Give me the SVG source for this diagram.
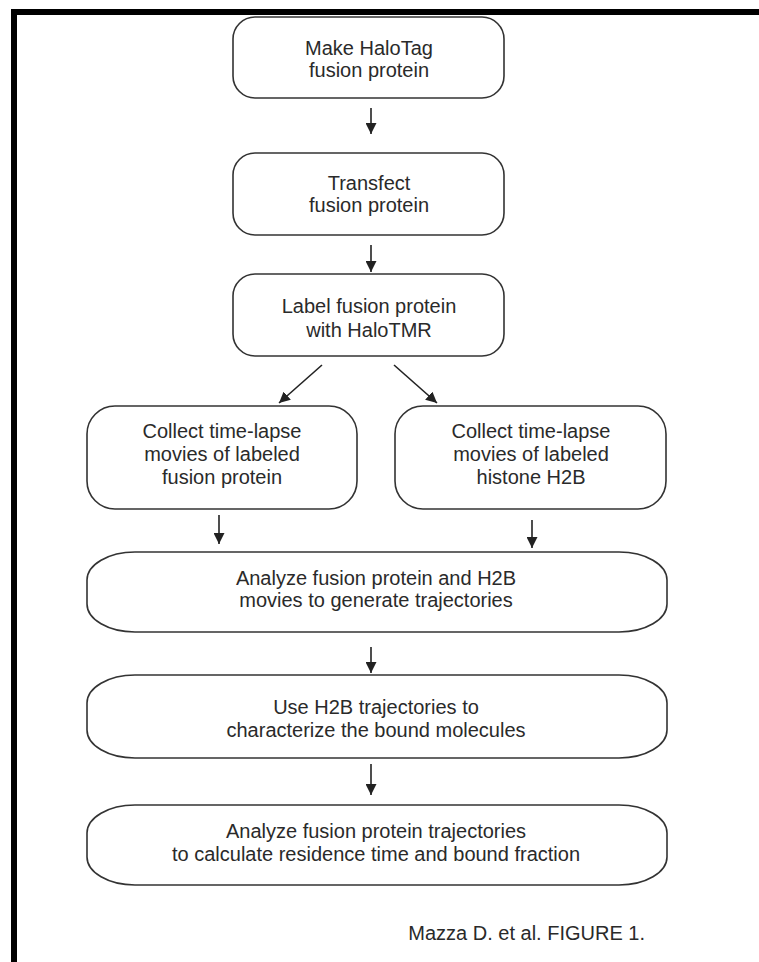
<svg xmlns="http://www.w3.org/2000/svg" width="759" height="962" viewBox="0 0 759 962">
<style>
.box{fill:#fff;stroke:#333;stroke-width:1.6}
.t{font-family:"Liberation Sans",Arial,sans-serif;font-size:20px;fill:#2a2a2a;text-anchor:middle}
.c{stroke:#222;stroke-width:1.6;fill:none;marker-end:url(#ah)}
</style>
<defs>
<marker id="ah" viewBox="0 0 10 10" refX="10" refY="5" markerWidth="11" markerHeight="11" markerUnits="userSpaceOnUse" orient="auto">
<path d="M0,0 L10,5 L0,10 Z" fill="#222"/>
</marker>
</defs>
<rect x="0" y="0" width="759" height="962" fill="#fff"/>
<g id="border">
<rect x="11" y="9" width="748" height="6" fill="#000"/>
<rect x="11" y="9" width="6" height="953" fill="#000"/>
</g>
<g id="connectors">
<line class="c" x1="371" y1="108" x2="371" y2="134"/>
<line class="c" x1="371" y1="245" x2="371" y2="272"/>
<line class="c" x1="322" y1="365" x2="279" y2="403"/>
<line class="c" x1="394" y1="365" x2="437" y2="403"/>
<line class="c" x1="219" y1="515" x2="219" y2="544"/>
<line class="c" x1="532" y1="520" x2="532" y2="548"/>
<line class="c" x1="371" y1="647" x2="371" y2="673"/>
<line class="c" x1="371" y1="764" x2="371" y2="795"/>
</g>
<g id="n1">
<rect class="box" x="233" y="17" width="271" height="81" rx="22"/>
<text class="t" x="369" y="55">Make HaloTag</text>
<text class="t" x="369" y="77">fusion protein</text>
</g>
<g id="n2">
<rect class="box" x="233" y="153" width="271" height="82" rx="22"/>
<text class="t" x="369" y="190">Transfect</text>
<text class="t" x="369" y="212">fusion protein</text>
</g>
<g id="n3">
<rect class="box" x="233" y="274" width="271" height="82" rx="22"/>
<text class="t" x="369" y="313">Label fusion protein</text>
<text class="t" x="369" y="337">with HaloTMR</text>
</g>
<g id="n4">
<rect class="box" x="87" y="406" width="270" height="103" rx="28"/>
<text class="t" x="222" y="438">Collect time-lapse</text>
<text class="t" x="222" y="461">movies of labeled</text>
<text class="t" x="222" y="484">fusion protein</text>
</g>
<g id="n5">
<rect class="box" x="395" y="406" width="271" height="103" rx="28"/>
<text class="t" x="531" y="438">Collect time-lapse</text>
<text class="t" x="531" y="461">movies of labeled</text>
<text class="t" x="531" y="484">histone H2B</text>
</g>
<g id="n6">
<rect class="box" x="87" y="552" width="580" height="80" rx="48" ry="28"/>
<text class="t" x="376" y="585">Analyze fusion protein and H2B</text>
<text class="t" x="376" y="607">movies to generate trajectories</text>
</g>
<g id="n7">
<rect class="box" x="87" y="675" width="580" height="83" rx="48" ry="28"/>
<text class="t" x="376" y="714">Use H2B trajectories to</text>
<text class="t" x="376" y="737">characterize the bound molecules</text>
</g>
<g id="n8">
<rect class="box" x="87" y="805" width="580" height="80" rx="48" ry="28"/>
<text class="t" x="376" y="838">Analyze fusion protein trajectories</text>
<text class="t" x="376" y="861">to calculate residence time and bound fraction</text>
</g>
<text class="t" x="645" y="940" style="text-anchor:end">Mazza D. et al. FIGURE 1.</text>
</svg>
